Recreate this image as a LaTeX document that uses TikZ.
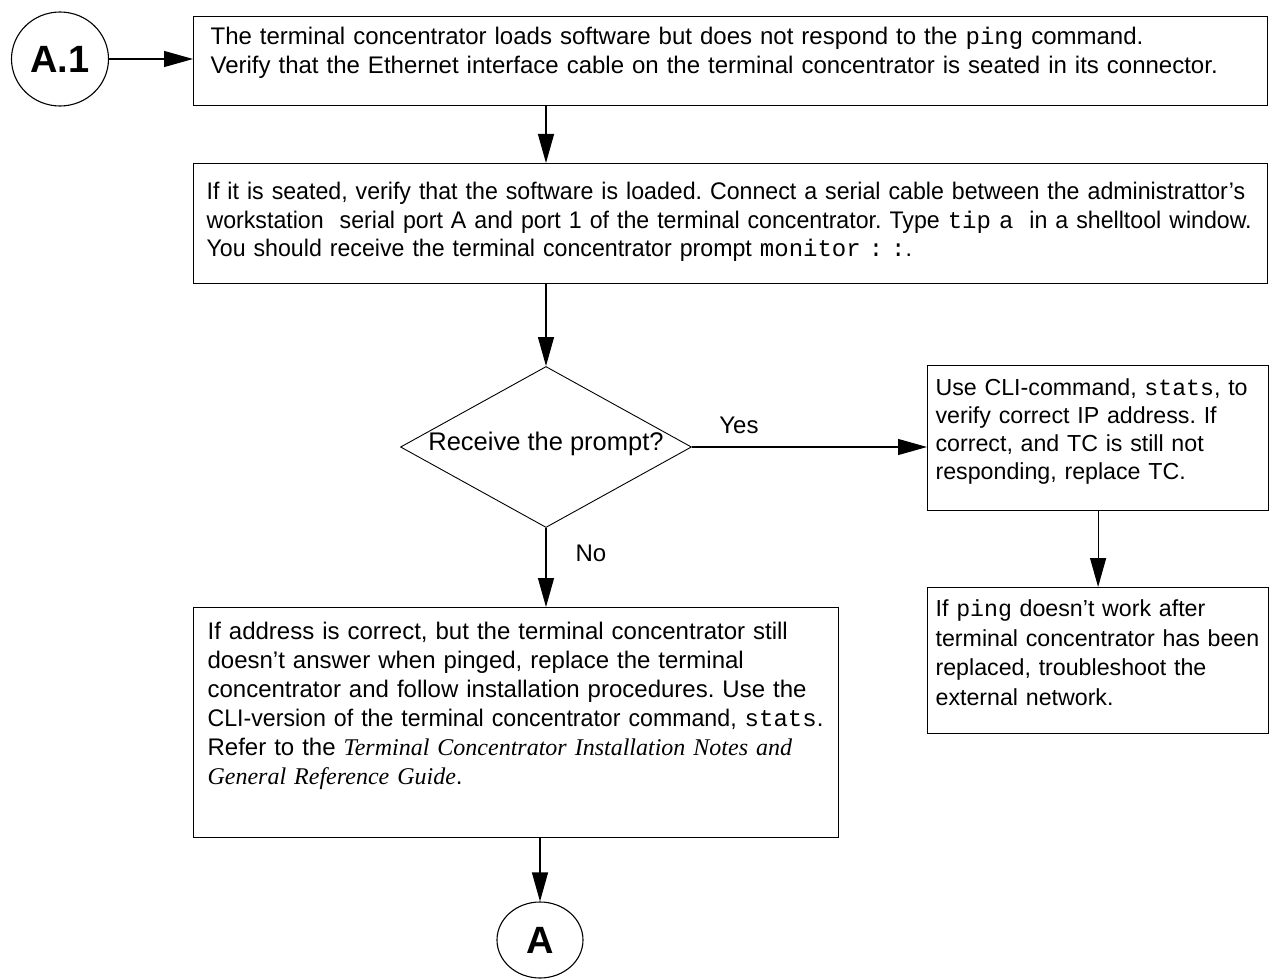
\documentclass[tikz,border=0pt]{standalone}
\usepackage{fontspec}
\setmainfont{Liberation Sans}
\setmonofont{Liberation Mono}
\newfontfamily\narrowsans{Liberation Sans}[FakeStretch=0.965]
\newfontfamily\guideserif{Liberation Serif}
\usetikzlibrary{shapes.geometric,arrows.meta}
\frenchspacing

\tikzset{
  stepbox/.style={draw, line width=1.2pt, anchor=north west, inner ysep=0pt, align=left,
    font=\fontsize{24}{29}\selectfont,
    execute at begin node={\frenchspacing\rightskip=0pt plus 1fil minus 60pt}},
  refcircle/.style={draw, ellipse, line width=1.1pt, inner sep=0pt,
    font=\fontsize{38}{40}\selectfont\bfseries},
  decision/.style={draw, diamond, line width=0.9pt, inner sep=0pt, shape aspect=1.81,
    minimum width=291pt, minimum height=161pt, font=\fontsize{25.5}{29}\selectfont},
  flow/.style={line width=1.2pt, -{Triangle[length=29pt,width=16pt]}},
  answer/.style={font=\fontsize{24}{29}\selectfont, inner sep=5pt},
}

\begin{document}
\begin{tikzpicture}[x=1pt, y=-1pt]
    \useasboundingbox (0,0) rectangle (1270,979);
    \path (  60,  59) node [refcircle, minimum width=97pt, minimum height=94pt] (start) {A.1};
    \path ( 193,  16) node [stepbox, text width=1040pt, inner xsep=17pt,
        text height=27.5pt, text depth=61.5pt] (load)
        {The terminal concentrator loads software but does not respond to the \texttt{ping} command.\\
         Verify that the Ethernet interface cable on the terminal concentrator is seated in its connector.};
    \path ( 193, 163) node [stepbox, text width=1048pt, inner xsep=13pt,
        font=\narrowsans\fontsize{24}{28.5}\selectfont,
        text height=36pt, text depth=84pt] (seated)
        {If it is seated, verify that the software is loaded. Connect a serial cable between the administrattor’s\\
         workstation\ \ serial port A and port 1 of the terminal concentrator. Type \texttt{tip a}\ \ in a shelltool window.\\
         You should receive the terminal concentrator prompt \texttt{monitor : :}.};
    \path ( 546, 447) node [decision] (prompt) {Receive the prompt?\rule[-12pt]{0pt}{0pt}};
    \path ( 927, 365) node [stepbox, text width=325pt, inner xsep=8pt,
        font=\fontsize{23.2}{28}\selectfont,
        text height=30pt, text depth=115pt] (cli)
        {Use CLI-command, \texttt{stats}, to\\
         verify correct IP address. If\\
         correct, and TC is still not\\
         responding, replace TC.};
    \path ( 927, 587) node [stepbox, text width=325pt, inner xsep=8pt,
        font=\fontsize{23.2}{29.5}\selectfont,
        text height=29pt, text depth=117pt] (network)
        {If \texttt{ping} doesn’t work after\\
         terminal concentrator has been\\
         replaced, troubleshoot the\\
         external network.};
    \path ( 193, 607) node [stepbox, text width=617pt, inner xsep=14pt,
        text height=32pt, text depth=198pt] (replace)
        {If address is correct, but the terminal concentrator still\\
         doesn’t answer when pinged, replace the terminal\\
         concentrator and follow installation procedures. Use the\\
         {\narrowsans CLI-version of the terminal concentrator command,} \texttt{stats}.\\
         Refer to the {\guideserif\itshape Terminal Concentrator Installation Notes and}\\
         {\guideserif\itshape General Reference Guide}.};
    \path ( 540, 940) node [refcircle, minimum width=86pt, minimum height=76pt] (onward) {A};
    \draw [flow] (start) -- (start -| load.west);
    \draw [flow] (load.south -| prompt) -- (seated.north -| prompt);
    \draw [flow] (seated.south -| prompt) -- (prompt);
    \draw [flow] (prompt) -- node [answer, above=8pt, pos=0.2] {Yes} (prompt -| cli.west);
    \draw [flow] (prompt) -- node [answer, right=24pt, pos=0.32] {No} (prompt |- replace.north);
    \draw [flow] (cli) -- (network);
    \draw [flow] (replace.south -| onward) -- (onward);
\end{tikzpicture}
\end{document}
